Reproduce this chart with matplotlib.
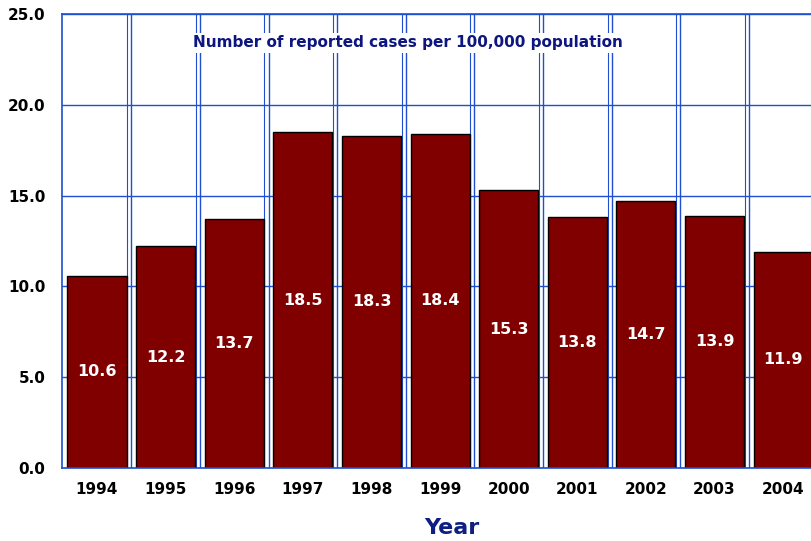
import matplotlib
matplotlib.use("Agg")
import matplotlib.pyplot as plt
import numpy as np

years = ["1994", "1995", "1996", "1997", "1998", "1999", "2000", "2001", "2002", "2003", "2004"]
rates = [10.6, 12.2, 13.7, 18.5, 18.3, 18.4, 15.3, 13.8, 14.7, 13.9, 11.9]
yticks = [0, 5, 10, 15, 20, 25]

W, H = 812, 541
fig = plt.figure(figsize=(W / 100, H / 100), dpi=100)
ax = fig.add_axes([62 / W, 1 - 468 / H, (W - 62) / W, (468 - 14) / H])

x = np.arange(len(years))
ax.set_xlim(-0.51, 10.42)
ax.set_ylim(0, 25)

grid_c = "#1f4fd0"
for yv in yticks:
    ax.axhline(yv, color=grid_c, lw=1.0, zorder=0)
for xv in x[:-1] + 0.5:
    ax.axvline(xv, color=grid_c, lw=1.0, zorder=0)
    ax.axvline(xv - 0.06, color=grid_c, lw=0.8, zorder=0)

bars = ax.bar(x, rates, width=0.86, color="#800000", edgecolor="black", linewidth=1.0, zorder=2)
for xi, v in zip(x, rates):
    ax.text(xi, v / 2, f"{v:.1f}", ha="center", va="center", color="white",
            fontsize=11.5, fontweight="bold", zorder=3)

ax.set_xticks(x)
ax.set_xticklabels(years, fontsize=11, fontweight="bold")
ax.set_yticks(yticks)
ax.set_yticklabels([f"{v:.1f}" for v in yticks], fontsize=11, fontweight="bold")
ax.tick_params(length=0, pad=10, axis="x")
ax.tick_params(length=0, pad=12, axis="y")
for s in ax.spines.values():
    s.set_color(grid_c)
    s.set_linewidth(1.2)
ax.spines["right"].set_visible(False)

fig.text(408 / W, 1 - 43 / H, "Number of reported cases per 100,000 population",
         ha="center", va="center", color="#0d1580", fontsize=11, fontweight="bold",
         bbox=dict(facecolor="white", edgecolor="none", pad=1.5), zorder=5)
fig.text(452 / W, 1 - 528 / H, "Year", ha="center", va="center", color="#0d1f80",
         fontsize=16, fontweight="bold")

fig.savefig("out.png", dpi=100)
